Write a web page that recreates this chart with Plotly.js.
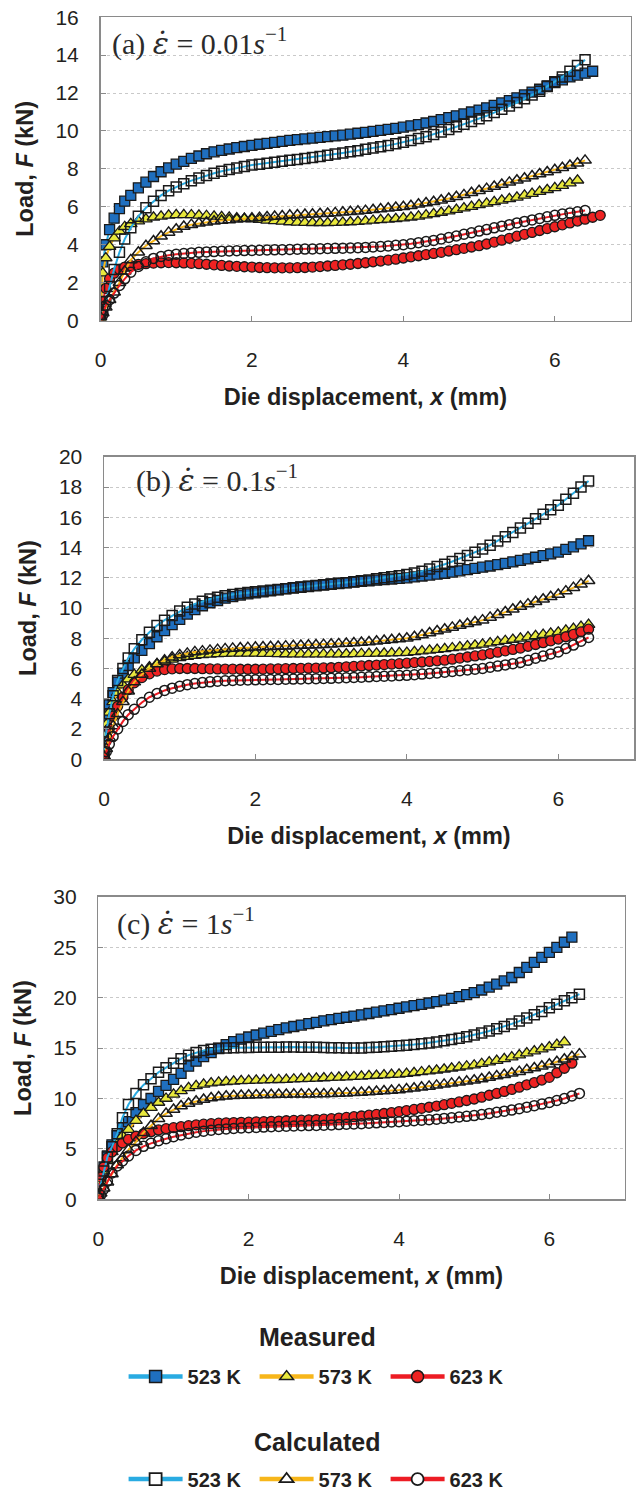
<!DOCTYPE html>
<html>
<head>
<meta charset="utf-8">
<script src="https://cdn.plot.ly/plotly-3.0.1.min.js"></script>
<style>html,body{margin:0;padding:0;background:#fff;}#chart{width:637px;height:1499px;}</style>
</head>
<body>
<div id="chart"></div>
<script>
// Die displacement sample positions (mm), shared by all series
const X_MM = [0,0.03,0.07,0.12,0.18,0.25,0.32,0.4,
  0.5,0.6,0.7,0.8,0.9,1,1.1,1.2,1.3,1.4,
  1.5,1.6,1.7,1.8,1.9,2,2.1,2.2,2.3,2.4,
  2.5,2.6,2.7,2.8,2.9,3,3.1,3.2,3.3,3.4,
  3.5,3.6,3.7,3.8,3.9,4,4.1,4.2,4.3,4.4,
  4.5,4.6,4.7,4.8,4.9,5,5.1,5.2,5.3,5.4,
  5.5,5.6,5.7,5.8,5.9,6,6.1,6.2,6.3,6.4,
  6.5,6.6];

const TEMPS = ['523 K', '573 K', '623 K'];
const GROUPS = ['Measured', 'Calculated'];

// (a) strain rate 0.01 s^-1 — load F (kN)
const A_MEAS_523 = [0.3,3.1,4.0,4.8,5.4,5.9,6.3,6.6,
  7.0,7.3,7.6,7.85,8.05,8.25,8.4,8.55,8.68,8.8,
  8.9,8.98,9.05,9.12,9.18,9.24,9.3,9.35,9.4,9.45,
  9.5,9.54,9.58,9.62,9.66,9.7,9.74,9.78,9.83,9.88,
  9.93,9.98,10.03,10.08,10.14,10.2,10.27,10.34,10.42,10.5,
  10.6,10.7,10.8,10.9,11.0,11.1,11.22,11.35,11.48,11.6,
  11.75,11.9,12.05,12.2,12.38,12.55,12.7,12.85,12.95,13.05,
  13.15];
const A_CALC_523 = [0.4,0.6,1.0,1.8,2.7,3.6,4.3,4.9,
  5.5,5.95,6.3,6.6,6.85,7.05,7.22,7.38,7.52,7.65,
  7.77,7.88,7.97,8.05,8.12,8.2,8.25,8.3,8.35,8.4,
  8.45,8.5,8.55,8.6,8.65,8.72,8.78,8.84,8.9,8.96,
  9.03,9.1,9.17,9.24,9.32,9.4,9.5,9.6,9.7,9.82,
  9.95,10.08,10.22,10.36,10.5,10.65,10.8,10.97,11.14,11.32,
  11.5,11.7,11.9,12.1,12.35,12.6,12.85,13.15,13.45,13.75];
const A_MEAS_573 = [0.1,2.5,3.3,3.9,4.35,4.7,4.95,5.1,
  5.25,5.35,5.45,5.5,5.55,5.58,5.58,5.57,5.55,5.53,
  5.5,5.47,5.44,5.41,5.38,5.35,5.32,5.29,5.26,5.23,
  5.2,5.18,5.17,5.16,5.16,5.16,5.17,5.18,5.2,5.22,
  5.25,5.28,5.31,5.34,5.37,5.4,5.45,5.5,5.56,5.63,
  5.7,5.77,5.85,5.93,6.01,6.1,6.18,6.26,6.34,6.42,
  6.5,6.6,6.7,6.8,6.9,7.0,7.12,7.25,7.4];
const A_CALC_573 = [0.2,0.4,0.7,1.1,1.5,2.0,2.6,3.2,
  3.6,3.95,4.2,4.45,4.65,4.82,4.96,5.06,5.13,5.19,
  5.24,5.28,5.31,5.34,5.37,5.4,5.43,5.46,5.49,5.52,
  5.55,5.57,5.59,5.61,5.63,5.65,5.68,5.71,5.74,5.77,
  5.8,5.84,5.88,5.92,5.96,6.0,6.06,6.13,6.2,6.27,
  6.35,6.44,6.53,6.63,6.74,6.85,6.96,7.07,7.18,7.29,
  7.4,7.51,7.62,7.73,7.84,7.95,8.06,8.18,8.3,8.45];
const A_MEAS_623 = [0.2,1.0,1.7,2.2,2.5,2.7,2.82,2.9,
  2.96,3.0,3.03,3.05,3.06,3.05,3.04,3.02,3.0,2.97,
  2.94,2.91,2.88,2.86,2.84,2.82,2.8,2.79,2.78,2.78,
  2.78,2.79,2.8,2.82,2.85,2.88,2.91,2.94,2.97,3.01,
  3.05,3.1,3.14,3.19,3.24,3.3,3.36,3.42,3.48,3.54,
  3.6,3.67,3.74,3.81,3.88,3.95,4.04,4.14,4.24,4.34,
  4.45,4.55,4.65,4.75,4.85,4.95,5.05,5.15,5.25,5.35,
  5.45,5.55];
const A_CALC_623 = [0.1,0.3,0.8,1.1,1.45,1.85,2.2,2.55,
  2.85,3.1,3.28,3.38,3.45,3.5,3.54,3.57,3.6,3.62,
  3.64,3.66,3.67,3.68,3.69,3.7,3.71,3.72,3.73,3.74,
  3.75,3.76,3.77,3.78,3.79,3.8,3.81,3.82,3.83,3.84,
  3.86,3.88,3.91,3.94,3.97,4.0,4.05,4.11,4.17,4.23,
  4.3,4.38,4.46,4.55,4.63,4.72,4.8,4.89,4.98,5.06,
  5.15,5.23,5.31,5.39,5.47,5.55,5.62,5.68,5.74,5.8];

// (b) strain rate 0.1 s^-1
const B_MEAS_523 = [0.3,2.85,3.6,4.4,5.1,5.7,6.2,6.7,
  7.2,7.65,8.1,8.5,8.9,9.25,9.6,9.9,10.15,10.35,
  10.5,10.65,10.76,10.86,10.94,11.0,11.07,11.14,11.21,11.28,
  11.35,11.4,11.45,11.5,11.55,11.6,11.64,11.68,11.72,11.76,
  11.8,11.84,11.88,11.92,11.96,12.0,12.06,12.12,12.18,12.24,
  12.3,12.38,12.46,12.54,12.62,12.7,12.78,12.87,12.96,13.05,
  13.15,13.25,13.36,13.47,13.58,13.7,13.88,14.05,14.25,14.45];
const B_CALC_523 = [0.5,1.8,3.0,4.2,5.2,6.0,6.7,7.3,
  7.9,8.4,8.85,9.2,9.5,9.8,10.05,10.27,10.45,10.6,
  10.72,10.82,10.9,10.96,11.02,11.07,11.12,11.17,11.22,11.27,
  11.32,11.37,11.42,11.47,11.52,11.57,11.62,11.68,11.74,11.8,
  11.86,11.93,12.0,12.07,12.14,12.22,12.32,12.44,12.58,12.74,
  12.9,13.08,13.28,13.48,13.69,13.9,14.16,14.44,14.72,15.0,
  15.3,15.6,15.9,16.2,16.5,16.8,17.2,17.6,18.0,18.4];
const B_MEAS_573 = [0.2,2.3,3.1,3.8,4.4,4.9,5.3,5.6,
  5.9,6.1,6.3,6.45,6.6,6.7,6.78,6.85,6.9,6.94,
  6.97,6.99,7.0,7.0,7.0,7.0,6.99,6.98,6.97,6.96,
  6.95,6.95,6.95,6.95,6.95,6.95,6.95,6.96,6.97,6.98,
  6.99,7.0,7.01,7.02,7.03,7.05,7.1,7.15,7.2,7.25,
  7.3,7.36,7.42,7.48,7.54,7.6,7.68,7.76,7.84,7.92,
  8.0,8.08,8.16,8.24,8.32,8.4,8.52,8.64,8.77,8.9];
const B_CALC_573 = [0.2,0.7,1.4,2.2,3.0,3.8,4.5,5.1,
  5.6,6.0,6.3,6.55,6.75,6.9,7.0,7.1,7.15,7.2,
  7.25,7.3,7.33,7.36,7.38,7.4,7.42,7.44,7.46,7.48,
  7.5,7.52,7.54,7.56,7.58,7.6,7.63,7.66,7.69,7.72,
  7.75,7.8,7.85,7.9,7.95,8.0,8.1,8.22,8.35,8.48,
  8.6,8.72,8.84,8.96,9.08,9.2,9.38,9.56,9.74,9.92,
  10.1,10.26,10.42,10.58,10.74,10.9,11.12,11.35,11.58,11.8];
const B_MEAS_623 = [0.2,1.2,2.0,2.85,3.5,4.1,4.6,5.05,
  5.4,5.65,5.83,5.93,5.98,6.0,6.0,6.0,5.99,5.98,
  5.97,5.96,5.96,5.95,5.95,5.95,5.96,5.97,5.98,5.99,
  6.0,6.01,6.02,6.03,6.04,6.05,6.08,6.11,6.14,6.17,
  6.2,6.23,6.26,6.29,6.32,6.35,6.39,6.43,6.47,6.51,
  6.55,6.62,6.69,6.76,6.83,6.9,6.99,7.08,7.17,7.26,
  7.35,7.47,7.59,7.71,7.83,7.95,8.1,8.26,8.43,8.6];
const B_CALC_623 = [0.1,0.5,1.0,1.5,2.0,2.5,2.95,3.3,
  3.75,4.1,4.35,4.55,4.7,4.83,4.93,5.01,5.07,5.12,
  5.16,5.19,5.21,5.23,5.24,5.25,5.26,5.27,5.28,5.29,
  5.3,5.31,5.32,5.33,5.34,5.35,5.37,5.39,5.41,5.43,
  5.45,5.47,5.49,5.51,5.53,5.55,5.59,5.63,5.67,5.71,
  5.75,5.8,5.85,5.9,5.95,6.0,6.08,6.16,6.24,6.32,
  6.4,6.54,6.68,6.82,6.96,7.1,7.32,7.55,7.8,8.05];

// (c) strain rate 1 s^-1
const C_MEAS_523 = [0.3,1.8,3.2,4.3,5.4,6.3,7.1,7.7,
  8.6,9.4,10.0,10.7,11.3,11.9,12.5,13.2,13.7,14.15,
  14.55,15.0,15.35,15.65,15.88,16.1,16.3,16.48,16.66,16.83,
  17.0,17.14,17.28,17.42,17.56,17.7,17.82,17.94,18.06,18.18,
  18.3,18.43,18.56,18.69,18.82,18.95,19.08,19.21,19.34,19.47,
  19.6,19.76,19.93,20.11,20.3,20.5,20.76,21.05,21.35,21.66,
  22.0,22.5,23.0,23.5,24.0,24.5,25.0,25.5,26.0];
const C_CALC_523 = [0.5,1.5,2.8,4.2,5.2,6.5,8.1,9.4,
  10.5,11.35,11.95,12.6,13.05,13.5,13.95,14.3,14.55,14.75,
  14.88,14.96,15.0,15.03,15.05,15.06,15.07,15.08,15.08,15.09,
  15.1,15.1,15.09,15.08,15.07,15.05,15.04,15.03,15.02,15.01,
  15.02,15.05,15.09,15.13,15.17,15.22,15.28,15.35,15.42,15.51,
  15.6,15.72,15.84,15.98,16.13,16.3,16.5,16.7,16.92,17.15,
  17.4,17.68,17.98,18.3,18.64,19.0,19.35,19.7,20.0,20.35];
const C_MEAS_573 = [0.3,1.8,2.8,3.8,4.7,5.5,6.3,6.9,
  7.8,8.5,9.1,9.6,10.0,10.4,10.75,11.05,11.25,11.4,
  11.52,11.6,11.66,11.7,11.74,11.77,11.8,11.82,11.84,11.86,
  11.88,11.91,11.94,11.97,12.0,12.03,12.06,12.09,12.12,12.16,
  12.2,12.24,12.28,12.32,12.36,12.4,12.47,12.55,12.63,12.71,
  12.8,12.9,13.0,13.1,13.2,13.3,13.45,13.6,13.76,13.93,
  14.1,14.3,14.5,14.7,14.9,15.1,15.35,15.6];
const C_CALC_573 = [0.2,0.6,1.1,1.7,2.5,3.4,4.1,4.9,
  5.7,6.6,7.3,8.0,8.5,8.9,9.25,9.5,9.72,9.9,
  10.05,10.15,10.22,10.27,10.3,10.32,10.34,10.36,10.37,10.39,
  10.4,10.41,10.42,10.43,10.44,10.45,10.47,10.5,10.53,10.56,
  10.6,10.64,10.69,10.74,10.79,10.85,10.93,11.02,11.11,11.2,
  11.3,11.4,11.5,11.6,11.7,11.8,11.94,12.08,12.22,12.36,
  12.5,12.66,12.84,13.02,13.2,13.4,13.64,13.89,14.14,14.4];
const C_MEAS_623 = [0.2,2.2,3.2,4.1,4.7,5.2,5.6,5.95,
  6.25,6.5,6.7,6.88,7.0,7.1,7.2,7.3,7.38,7.45,
  7.5,7.55,7.58,7.61,7.63,7.65,7.68,7.7,7.73,7.76,
  7.79,7.82,7.85,7.88,7.91,7.95,8.0,8.06,8.12,8.19,
  8.26,8.34,8.42,8.51,8.6,8.7,8.8,8.91,9.02,9.13,
  9.25,9.38,9.52,9.66,9.8,9.95,10.13,10.32,10.5,10.7,
  10.9,11.12,11.35,11.58,11.83,12.1,12.55,13.0,13.5];
const C_CALC_623 = [0.1,0.4,1.0,1.8,2.6,3.3,3.8,4.3,
  4.85,5.25,5.55,5.8,6.0,6.2,6.37,6.52,6.65,6.76,
  6.85,6.92,6.98,7.03,7.07,7.1,7.13,7.16,7.19,7.22,
  7.25,7.27,7.29,7.31,7.33,7.35,7.38,7.41,7.44,7.47,
  7.5,7.54,7.58,7.62,7.66,7.7,7.75,7.8,7.85,7.9,
  7.95,8.02,8.09,8.16,8.23,8.3,8.41,8.52,8.63,8.74,
  8.85,8.99,9.14,9.29,9.44,9.6,9.8,10.0,10.25,10.5];

const PANEL_LABELS = ['(a)', '(b)', '(c)'];
const RATE_TEXT = ['0.01', '0.1', '1'];
const Y_MAX = [16, 20, 30];
const Y_DTICK = [2, 2, 5];

// ---------- styling ----------
const SANS = 'Liberation Sans, Arial, sans-serif';
const SERIF = 'Liberation Serif, Times New Roman, serif';
const TXT = '#231f20';
const LINE_COL = ['#29abe2', '#f7b61a', '#ed1c24'];
const FILL_COL = ['#1f6fbf', '#e8e83c', '#ee2222'];
const SYM = ['square', 'triangle-up', 'circle'];
const MSIZE = [10, 11, 10];

const panels = [
  {meas: [A_MEAS_523, A_MEAS_573, A_MEAS_623], calc: [A_CALC_523, A_CALC_573, A_CALC_623]},
  {meas: [B_MEAS_523, B_MEAS_573, B_MEAS_623], calc: [B_CALC_523, B_CALC_573, B_CALC_623]},
  {meas: [C_MEAS_523, C_MEAS_573, C_MEAS_623], calc: [C_CALC_523, C_CALC_573, C_CALC_623]}
];

const W = 637, H = 1499;
// panel boxes in pixels: left, right, top, bottom
const BOX = [
  [100.5, 630.5, 17.3, 322.3],
  [104, 634, 459.3, 763.3],
  [98.4, 624.5, 901.7, 1205.7]
];
// label: left x, bottom y (px)
const LABEL_POS = [[110, 63], [134, 503], [115, 948]];

const traces = [];
panels.forEach((p, i) => {
  const xa = i === 0 ? 'x' : 'x' + (i + 1);
  const ya = i === 0 ? 'y' : 'y' + (i + 1);
  for (let k = 0; k < 3; k++) {
    const y = p.meas[k];
    traces.push({
      type: 'scatter', mode: 'lines+markers', xaxis: xa, yaxis: ya,
      x: X_MM.slice(0, y.length), y: y, showlegend: false, hoverinfo: 'skip',
      line: {color: LINE_COL[k], width: 2},
      marker: {symbol: SYM[k], size: MSIZE[k], color: FILL_COL[k], line: {color: '#1a1a1a', width: 1.3}}
    });
  }
  for (let k = 0; k < 3; k++) {
    const y = p.calc[k];
    traces.push({
      type: 'scatter', mode: 'lines+markers', xaxis: xa, yaxis: ya,
      x: X_MM.slice(0, y.length), y: y, showlegend: false, hoverinfo: 'skip',
      line: {color: LINE_COL[k], width: 2},
      marker: {symbol: SYM[k] + '-open', size: MSIZE[k], color: '#1a1a1a', line: {color: '#1a1a1a', width: 1.5}}
    });
  }
});

// legend entries
['legend', 'legend2'].forEach((lg, g) => {
  for (let k = 0; k < 3; k++) {
    traces.push({
      type: 'scatter', mode: 'lines+markers', x: [null], y: [null], name: TEMPS[k],
      legend: lg, showlegend: true, hoverinfo: 'skip',
      line: {color: LINE_COL[k], width: 4.5},
      marker: {symbol: SYM[k], size: 12, color: g === 0 ? FILL_COL[k] : '#ffffff',
               line: {color: '#1a1a1a', width: g === 0 ? 1.5 : 1.8}}
    });
  }
});

const legendBase = (yc) => ({
  orientation: 'h', x: 0.5025, xanchor: 'center', y: 1 - yc / H, yanchor: 'middle',
  font: {size: 20, family: SANS, weight: 'bold', color: TXT},
  bgcolor: 'rgba(0,0,0,0)', entrywidth: 62, itemwidth: 54
});

const layout = {
  width: W, height: H,
  margin: {l: 0, r: 0, t: 0, b: 0},
  paper_bgcolor: '#ffffff', plot_bgcolor: '#ffffff',
  font: {family: SANS, color: TXT},
  annotations: [],
  legend: legendBase(1384),
  legend2: legendBase(1487)
};

// legend group headings
[1344, 1450].forEach((yc, g) => {
  layout.annotations.push({
    xref: 'paper', yref: 'paper', x: 317 / W, y: 1 - yc / H, xanchor: 'center', yanchor: 'middle',
    showarrow: false, text: GROUPS[g], font: {size: 25, family: SANS, weight: 'bold', color: TXT}
  });
});

BOX.forEach((b, i) => {
  const sx = i === 0 ? '' : String(i + 1);
  layout['xaxis' + sx] = {
    domain: [b[0] / W, b[1] / W], anchor: 'y' + sx,
    range: [0, 7], tick0: 0, dtick: 2, ticks: 'inside', ticklen: 5, tickcolor: '#8a8a8a', tickwidth: 1,
    showline: true, mirror: true, linecolor: '#8a8a8a', linewidth: 1.5,
    showgrid: false, zeroline: false,
    tickfont: {size: 21, family: SANS, color: TXT}, ticklabelstandoff: 20,
    title: {text: 'Die displacement, <i>x</i> (mm)', font: {size: 23.5, family: SANS, weight: 'bold', color: TXT}, standoff: 18}
  };
  layout['yaxis' + sx] = {
    domain: [1 - b[3] / H, 1 - b[2] / H], anchor: 'x' + sx,
    range: [0, Y_MAX[i]], tick0: 0, dtick: Y_DTICK[i],
    ticks: 'inside', ticklen: 5, tickcolor: '#8a8a8a', tickwidth: 1,
    showline: true, mirror: true, linecolor: '#8a8a8a', linewidth: 1.5,
    showgrid: true, gridcolor: '#c9c9c9', griddash: 'dot', gridwidth: 1, zeroline: false,
    tickfont: {size: 21, family: SANS, color: TXT}, ticklabelstandoff: 16,
    title: {text: 'Load, <i>F</i> (kN)', font: {size: 23.5, family: SANS, weight: 'bold', color: TXT}, standoff: 15}
  };
  const lp = LABEL_POS[i];
  layout.annotations.push({
    xref: 'paper', yref: 'paper', x: lp[0] / W, y: 1 - lp[1] / H,
    xanchor: 'left', yanchor: 'bottom', showarrow: false,
    text: PANEL_LABELS[i] + ' <span style="font-family:DejaVu Serif"><i>\u03B5\u0307</i></span> = ' +
          RATE_TEXT[i] + '<i>s</i><sup>\u22121</sup>',
    font: {family: SERIF, size: 30, color: '#2b2b2b'}
  });
});

Plotly.newPlot('chart', traces, layout, {staticPlot: true, displayModeBar: false});
</script>
</body>
</html>
